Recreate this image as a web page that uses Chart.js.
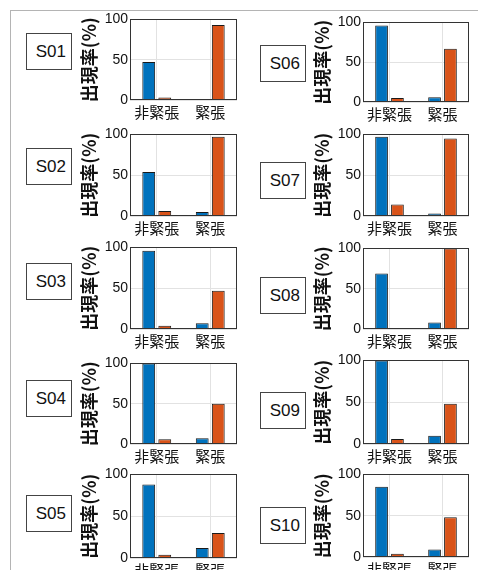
<!DOCTYPE html>
<html>
<head>
<meta charset="utf-8">
<script src="https://cdn.jsdelivr.net/npm/chart.js@4/dist/chart.umd.min.js"></script>
<style>
  html, body { margin: 0; padding: 0; background: #fff; }
  body { width: 478px; height: 570px; position: relative; overflow: hidden; }
  .frame {
    position: absolute; left: 10px; top: 10px; width: 480px; height: 570px;
    border-top: 1px solid #b4b4b4; border-left: 1px solid #b4b4b4;
  }
  .tag {
    position: absolute; width: 44px; height: 35px; box-sizing: content-box;
    border: 1.5px solid #444; background: #fff;
    font: 17px "Liberation Sans", Arial, sans-serif; color: #111;
    line-height: 35px; text-align: right; padding-right: 0;
  }
  .tag span { padding-right: 5px; }
  .panel { position: absolute; }
</style>
</head>
<body>
<div class="frame"></div>
<script>
// subjects and categories
const subjects = ["S01", "S02", "S03", "S04", "S05", "S06", "S07", "S08", "S09", "S10"];
const categories = ["非緊張", "緊張"];

// occurrence rate (%)
const blueNonTense   = [47, 54, 96, 100, 88, 96, 97, 69, 100, 85];
const blueTense      = [0, 5, 7, 7, 12, 6, 3, 8, 10, 9];
const orangeNonTense = [3, 6, 4, 6, 4, 5, 14, 0, 6, 4];
const orangeTense    = [93, 97, 47, 50, 30, 67, 95, 100, 48, 48];
const yTicks = [0, 50, 100];

const BLUE = "#0072BD";
const ORANGE = "#D95319";

// layout: plot area top/height per panel, tag box top
const plotTops    = [19, 134, 247, 363, 474, 22, 134, 248, 360, 474];
const plotHeights = [81, 82, 82, 81, 84, 80, 82, 81, 84, 83];
const tagTops     = [33, 148, 263, 380, 495, 45, 162, 277, 392, 507];

const AXIS_W = 52;
const PAD_TOP = 10;
const XAXIS_H = 26;

const boxPlugin = {
  id: "box",
  afterDraw(chart) {
    const a = chart.chartArea;
    const ctx = chart.ctx;
    ctx.save();
    ctx.strokeStyle = "#333";
    ctx.lineWidth = 1;
    ctx.strokeRect(Math.round(a.left) + 0.5, Math.round(a.top) + 0.5,
      Math.round(a.right - a.left) - 1, Math.round(a.bottom - a.top) - 1);
    ctx.restore();
  }
};

subjects.forEach((name, i) => {
  const right = i >= 5;
  const plotLeft = right ? 363 : 130;
  const plotW = right ? 106 : 107;
  const canvasLeft = plotLeft - AXIS_W;
  const w = AXIS_W + plotW + 2;
  const h = PAD_TOP + plotHeights[i] + XAXIS_H;

  const tag = document.createElement("div");
  tag.className = "tag";
  tag.style.left = (right ? 260 : 26) + "px";
  tag.style.top = tagTops[i] + "px";
  tag.innerHTML = "<span>" + name + "</span>";
  document.body.appendChild(tag);

  const wrap = document.createElement("div");
  wrap.className = "panel";
  wrap.style.left = canvasLeft + "px";
  wrap.style.top = (plotTops[i] - PAD_TOP) + "px";
  wrap.style.width = w + "px";
  wrap.style.height = h + "px";
  const cv = document.createElement("canvas");
  wrap.appendChild(cv);
  document.body.appendChild(wrap);

  new Chart(cv.getContext("2d"), {
    type: "bar",
    data: {
      labels: categories,
      datasets: [
        {
          data: [blueNonTense[i], blueTense[i]],
          backgroundColor: BLUE,
          borderColor: "#1a1a1a",
          borderWidth: 1,
        },
        {
          data: [orangeNonTense[i], orangeTense[i]],
          backgroundColor: ORANGE,
          borderColor: "#1a1a1a",
          borderWidth: 1,
        },
      ],
    },
    options: {
      responsive: true,
      maintainAspectRatio: false,
      animation: false,
      layout: { padding: { top: PAD_TOP, right: 2, left: 0, bottom: 0 } },
      plugins: { legend: { display: false }, tooltip: { enabled: false } },
      datasets: { bar: { categoryPercentage: 0.6, barPercentage: 0.8 } },
      scales: {
        x: {
          grid: { offset: false, color: "#e2e2e2", drawTicks: false },
          border: { display: false },
          ticks: {
            padding: 3,
            color: "#111",
            font: { family: "'Noto Sans CJK JP'", size: 15 },
          },
          afterFit(s) { s.height = XAXIS_H; },
        },
        y: {
          min: 0,
          max: 100,
          afterBuildTicks(s) { s.ticks = yTicks.map(v => ({ value: v })); },
          grid: { color: "#e2e2e2", drawTicks: false },
          border: { display: false },
          ticks: {
            padding: 2,
            color: "#111",
            font: { family: "'Liberation Sans', Arial", size: 14 },
          },
          title: {
            display: true,
            text: "出現率(%)",
            color: "#111",
            padding: 0,
            font: { family: "'Noto Sans CJK JP'", size: 18, weight: "bold" },
          },
          afterFit(s) { s.width = AXIS_W; },
        },
      },
    },
    plugins: [boxPlugin],
  });
});
</script>
</body>
</html>
